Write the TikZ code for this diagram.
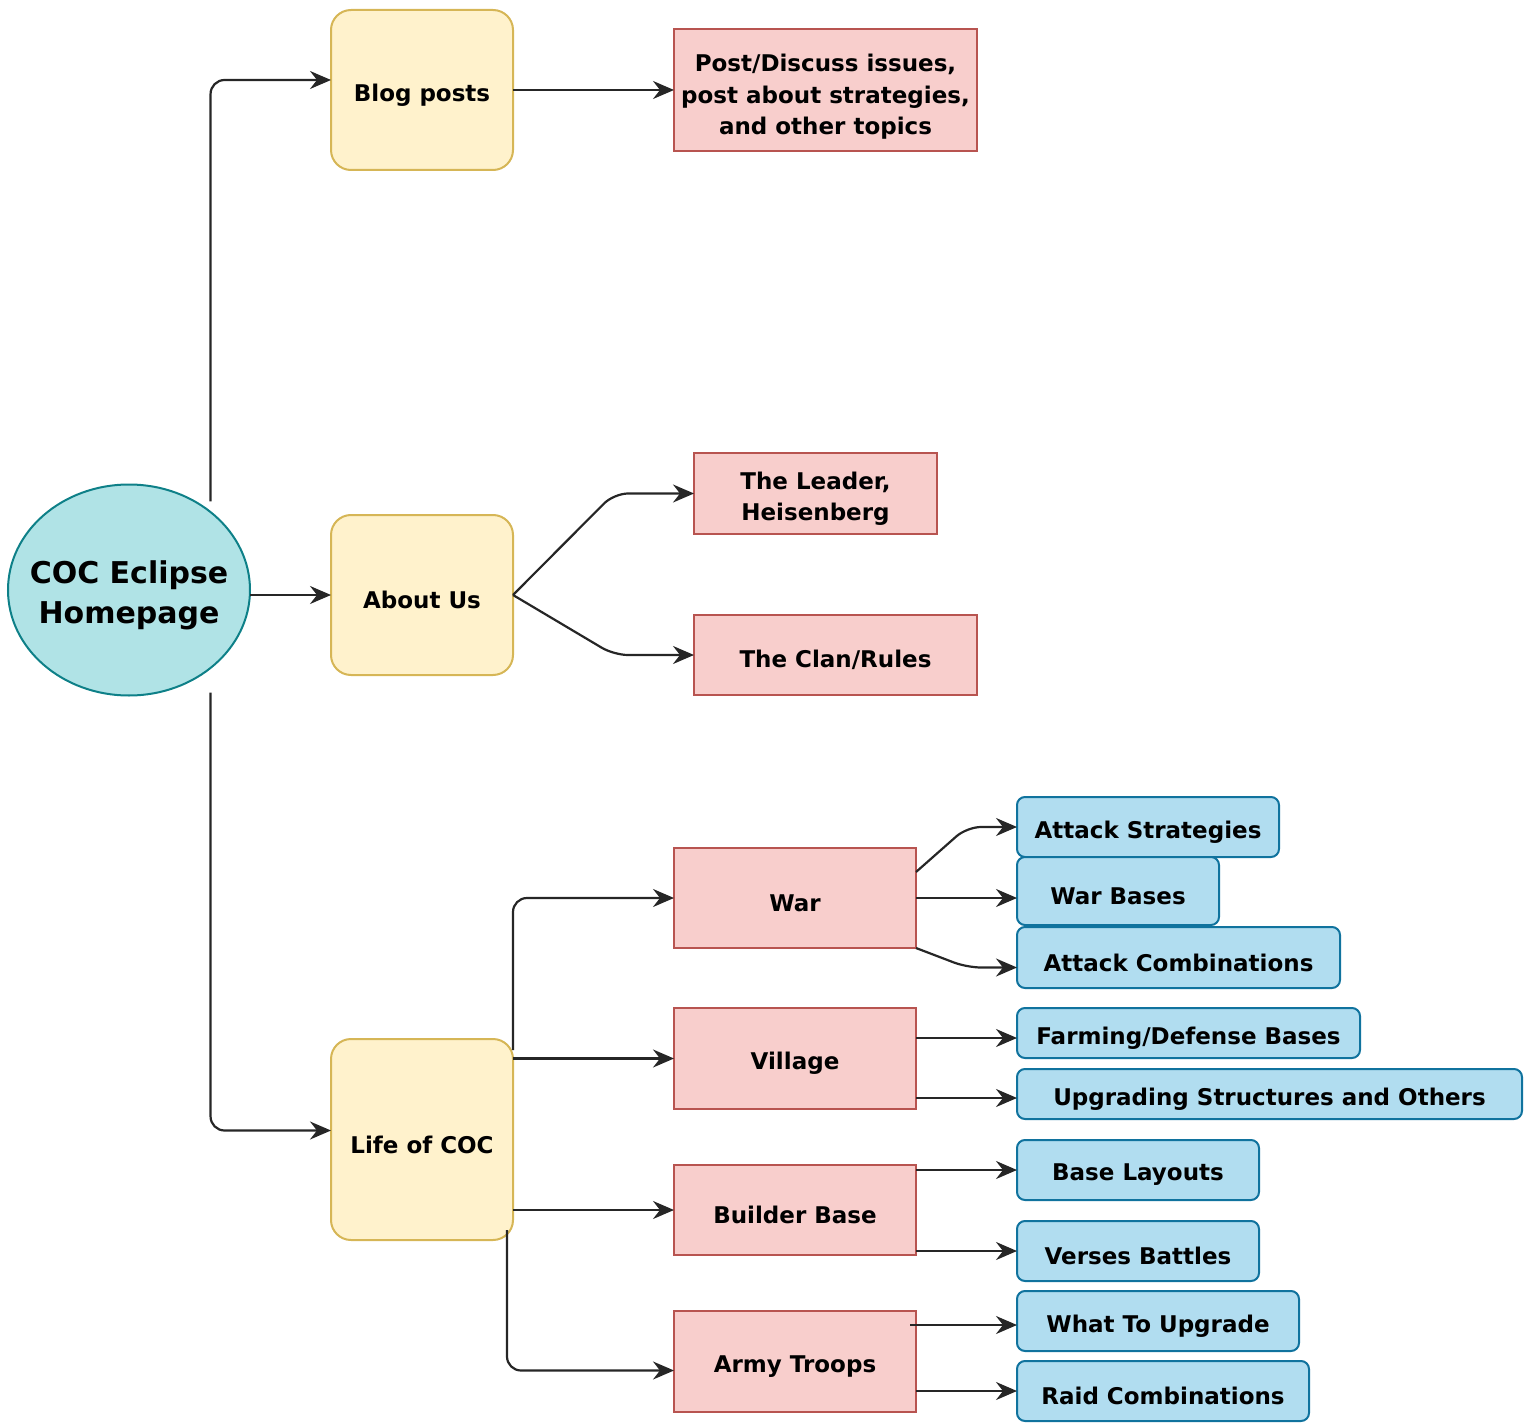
\documentclass[tikz,border=0pt]{standalone}
\usepackage{fontspec}
\setmainfont{DejaVu Sans}
\usetikzlibrary{arrows.meta,shapes.geometric,calc}
\definecolor{efill}{HTML}{B0E3E6}
\definecolor{eline}{HTML}{0E8088}
\definecolor{yfill}{HTML}{FFF2CC}
\definecolor{yline}{HTML}{D6B656}
\definecolor{pfill}{HTML}{F8CECC}
\definecolor{pline}{HTML}{B85450}
\definecolor{bfill}{HTML}{B1DDF0}
\definecolor{bline}{HTML}{10739E}
\begin{document}
\begin{tikzpicture}[x=1pt,y=-1pt,
  every node/.style={inner sep=0pt, outer sep=0pt, line width=2pt},
  every label/.style={font=\bfseries\fontsize{23}{31.5}\selectfont, align=center, yshift=-5pt, inner sep=0pt},
  ybox/.style={draw=yline, fill=yfill, rounded corners=20pt, minimum width=182pt},
  pbox/.style={draw=pline, fill=pfill},
  bbox/.style={draw=bline, fill=bfill, rounded corners=8pt},
  conn/.style={draw=black!85, line width=2.2pt, -{Stealth[length=21pt,width=18pt,inset=7pt]}, rounded corners=14pt}
]
\useasboundingbox (0,0) rectangle (1535,1423);

% root
\node[ellipse, draw=eline, fill=efill, minimum width=242pt, minimum height=211pt,
      label={[font=\bfseries\fontsize{30}{40}\selectfont]center:COC Eclipse\\Homepage}] (home) at (129,590) {};

% yellow
\node[ybox, minimum height=160pt, label={center:Blog posts}] (blog)  at (422,90) {};
\node[ybox, minimum height=160pt, label={center:About Us}] (about) at (422,595) {};
\node[ybox, minimum height=201pt, label={center:Life of COC}] (life)  at (422,1139.5) {};

% pink
\node[pbox, minimum width=303pt, minimum height=122pt, label={[yshift=-2pt]center:Post/Discuss issues,\\post about strategies,\\and other topics}] (post) at (825.5,90) {};
\node[pbox, minimum width=243pt, minimum height=81pt, label={center:The Leader,\\Heisenberg}] (leader) at (815.5,493.5) {};
\node[pbox, minimum width=283pt, minimum height=80pt, label={center:The Clan/Rules}] (clan) at (835.5,655) {};
\node[pbox, minimum width=242pt, minimum height=100pt, label={center:War}] (war) at (795,898) {};
\node[pbox, minimum width=242pt, minimum height=101pt, label={center:Village}] (village) at (795,1058.5) {};
\node[pbox, minimum width=242pt, minimum height=90pt, label={center:Builder Base}] (builder) at (795,1210) {};
\node[pbox, minimum width=242pt, minimum height=101pt, label={center:Army Troops}] (army) at (795,1361.5) {};

% blue
\node[bbox, minimum width=262pt, minimum height=60pt, label={center:Attack Strategies}] (as) at (1148,827) {};
\node[bbox, minimum width=202pt, minimum height=68pt, label={center:War Bases}] (wb) at (1118,891) {};
\node[bbox, minimum width=323pt, minimum height=61pt, label={center:Attack Combinations}] (ac) at (1178.5,957.5) {};
\node[bbox, minimum width=343pt, minimum height=50pt, label={center:Farming/Defense Bases}] (farm) at (1188.5,1033) {};
\node[bbox, minimum width=505pt, minimum height=50pt, label={center:Upgrading Structures and Others}] (upg) at (1269.5,1094) {};
\node[bbox, minimum width=242pt, minimum height=60pt, label={center:Base Layouts}] (bl) at (1138,1170) {};
\node[bbox, minimum width=242pt, minimum height=60pt, label={center:Verses Battles}] (vb) at (1138,1251) {};
\node[bbox, minimum width=282pt, minimum height=60pt, label={center:What To Upgrade}] (wu) at (1158,1321) {};
\node[bbox, minimum width=292pt, minimum height=60pt, label={center:Raid Combinations}] (rc) at (1163,1391) {};

% helper coordinates
\coordinate (homeup)  at ([xshift=-4pt,yshift=14pt]home.north east);
\coordinate (homedn)  at ([xshift=-4pt,yshift=-28pt]home.south east);
\coordinate (blogin)  at ([yshift=10pt]blog.west);
\coordinate (lifein)  at ([yshift=9pt]life.west);
\coordinate (armyin)  at ([yshift=-9pt]army.west);
\coordinate (lifetop) at ([yshift=-11pt]life.north east);
\coordinate (lifebot) at ([xshift=-6pt,yshift=10pt]life.south east);
\coordinate (warup)   at ([yshift=26pt]war.east);
\coordinate (acin)    at ([yshift=-10pt]ac.west);
\coordinate (farmin)  at ([yshift=-5pt]farm.west);
\coordinate (upgin)   at ([yshift=-4pt]upg.west);
\coordinate (wuin)    at ([yshift=-4pt]wu.west);

% connectors
\draw[conn] (homeup) |- (blogin);
\draw[conn] (home.east |- about.west) -- (about.west);
\draw[conn] (homedn) |- (lifein);
\draw[conn] (blog.east) -- (post.west);
\draw[conn] (about.east) -- ($(leader.west)+(-80,0)$) -- (leader.west);
\draw[conn] (about.east) -- ($(clan.west)+(-80,0)$) -- (clan.west);

\draw[conn] (lifetop) |- (war.west);
\draw[conn] (life.east |- village.west) -- (village.west);
\draw[conn] (life.east |- builder.west) -- (builder.west);
\draw[conn] (lifebot) |- (armyin);

\draw[conn] (warup) -- ($(as.west)+(-50,0)$) -- (as.west);
\draw[conn] (war.east) -- (war.east -| wb.west);
\draw[conn] (war.south east) -- ($(acin)+(-50,0)$) -- (acin);
\draw[conn] (farmin -| village.east) -- (farmin);
\draw[conn] (upgin -| village.east) -- (upgin);
\draw[conn] (bl.west -| builder.east) -- (bl.west);
\draw[conn] (vb.west -| builder.east) -- (vb.west);
\draw[conn] ([xshift=-6pt]wuin -| army.east) -- (wuin);
\draw[conn] (rc.west -| army.east) -- (rc.west);
\end{tikzpicture}
\end{document}
